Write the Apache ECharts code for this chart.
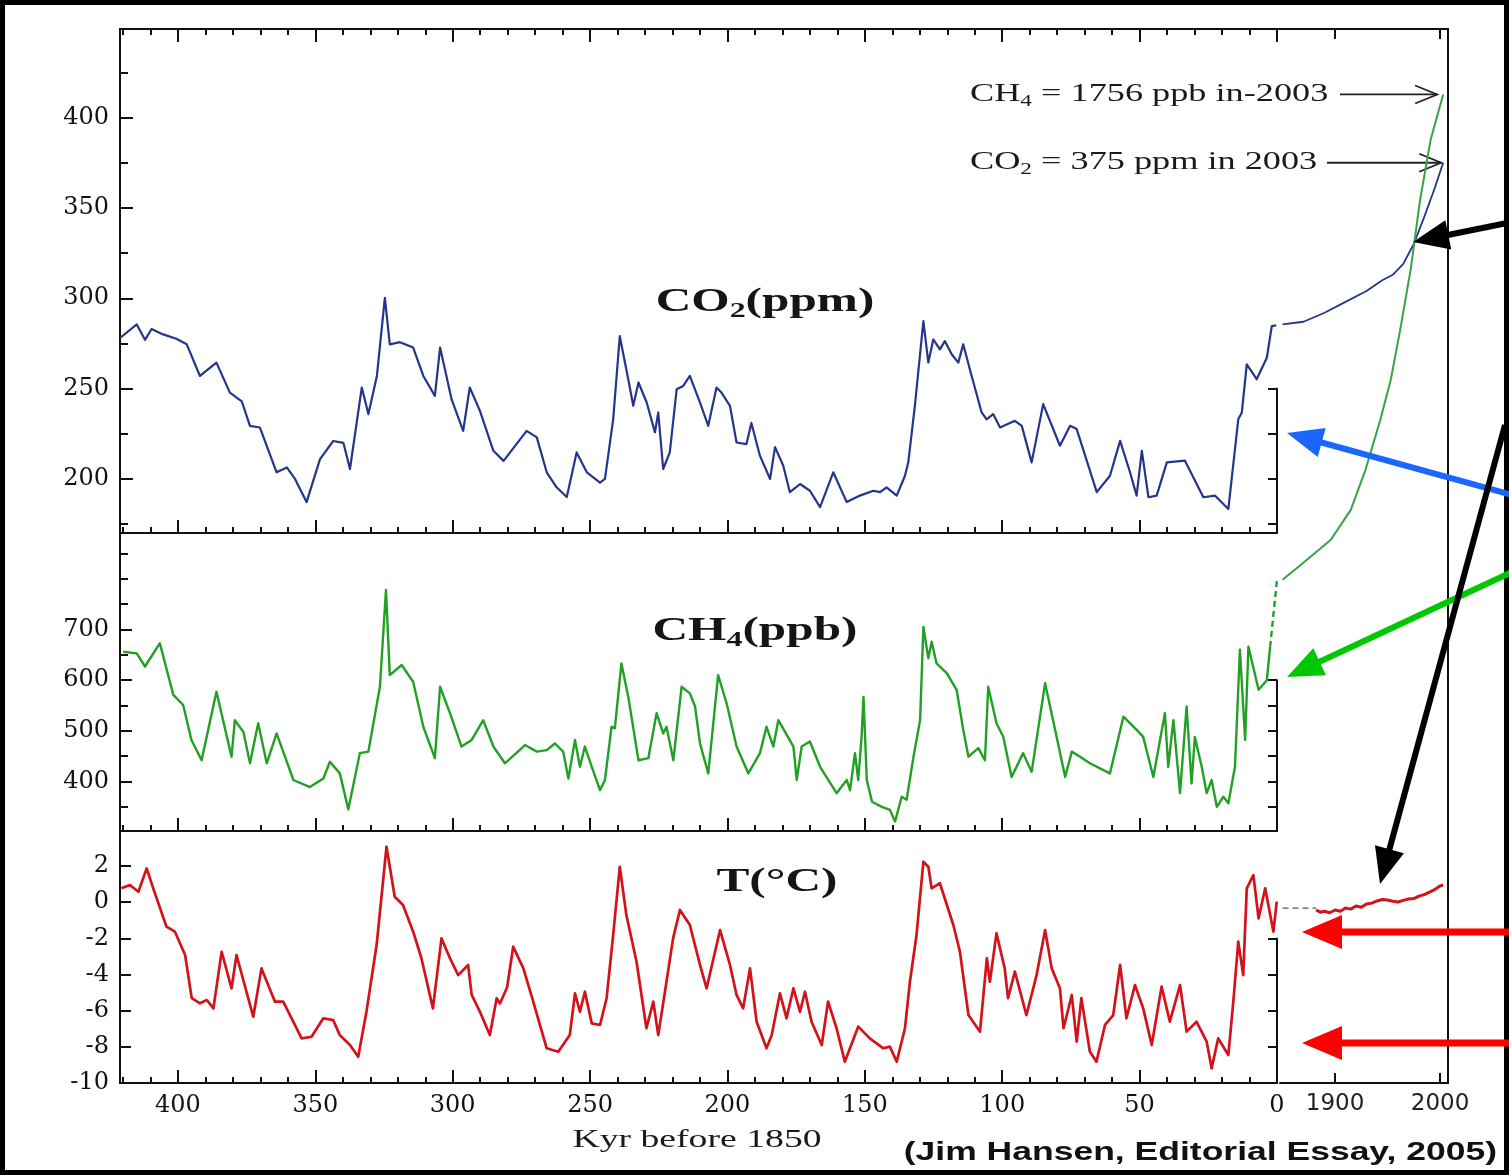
<!DOCTYPE html>
<html>
<head>
<meta charset="utf-8">
<title>Ice-core CO2, CH4 and temperature over 420 kyr</title>
<script src="https://cdn.jsdelivr.net/npm/echarts@6.0.0/dist/echarts.min.js"></script>
<style>
  html, body { margin: 0; padding: 0; background: #ffffff; }
  #chart { width: 1509px; height: 1175px; }
</style>
</head>
<body>
<div id="chart"></div>
<script>
// ---------------- Ice-core record (kyr before 1850) ----------------
const co2Kyr = [421.1,415.0,412.0,409.6,405.4,400.6,396.8,392.0,386.0,381.1,
  376.8,373.8,370.2,364.1,360.4,357.4,353.2,348.3,343.5,339.8,
  337.4,333.1,330.7,327.6,324.7,322.9,319.2,314.4,310.7,306.5,
  304.6,300.4,296.2,293.8,290.1,285.2,281.5,273.1,269.4,265.8,
  262.2,258.5,254.9,251.2,246.4,244.6,241.6,239.2,236.1,234.3,
  232.4,229.4,226.4,225.2,223.4,221.0,218.5,216.1,213.7,210.0,
  207.0,204.0,202.2,199.1,196.7,193.1,191.3,188.2,184.5,182.7,
  179.7,177.3,173.6,170.0,166.3,161.5,156.6,151.8,146.9,144.5,
  142.1,138.4,135.4,134.2,131.8,128.7,126.9,125.1,122.7,120.9,
  118.4,116.0,114.2,111.8,107.5,105.7,103.3,100.8,95.4,92.9,
  89.3,85.1,79.0,75.3,72.9,65.6,60.8,57.1,53.5,51.1,
  49.2,46.8,43.8,40.1,33.5,26.8,22.6,17.7,14.1,12.8,
  11.0,7.4,3.7,1.9,0.3];
const co2Ppm = [278,285.5,277,283,280,277.6,274.5,257,264.4,247.8,
  243,229.4,228.5,203.7,206.4,200,187.2,211,221,220,
  205.5,250.6,235.9,257,300.2,274.5,275.7,272.7,257,246,
  272.7,244,226.6,250.6,237.7,215.6,210,226.6,223,203.7,
  195.4,190,214.7,203.7,198,200,233,279,255,240.5,
  253.4,242.3,225.8,236.8,205.5,214.7,249.6,251.5,257,242.3,
  229.4,250.6,247.8,240.5,220.2,219.3,231,212.9,200,217.6,
  207.3,192.7,197.2,193.5,184.4,203.7,187.2,190.8,193.5,192.7,
  195.4,190.8,201.8,209.2,240.5,287.3,264.4,277.2,271.7,276.3,
  269,264.4,274.5,260.7,236.8,233,235.9,228.5,232.2,229.4,
  209.2,241.4,218.4,229.4,227.6,192.7,201.8,221.1,203.7,190.8,
  215.6,189.9,190.8,209.2,210.1,189.9,190.8,183.4,233,236.8,
  263.4,255.2,267.1,284.6,285];

const ch4Kyr = [419.9,415.0,412.0,406.6,401.7,398.1,395.1,391.4,386.0,380.5,
  379.3,376.2,373.8,370.8,367.7,364.1,358.0,352.0,347.1,344.7,
  341.1,338.0,333.8,330.7,326.5,324.3,322.9,318.6,314.4,310.7,
  306.5,304.6,301.0,296.8,293.1,288.9,285.2,281.0,273.7,269.4,
  265.8,262.8,259.8,257.9,255.5,253.7,251.9,249.4,246.4,244.6,
  242.2,241.0,238.6,236.1,232.4,228.8,225.8,223.4,222.2,219.7,
  216.7,213.7,211.8,210.0,207.0,203.4,200.3,196.7,192.4,188.2,
  185.8,183.3,181.5,176.0,174.8,173.0,170.0,166.3,160.3,156.6,
  155.4,153.6,152.4,151.2,150.5,149.3,147.4,143.8,140.9,139.0,
  136.6,134.8,132.3,129.9,128.7,126.9,125.7,123.9,120.2,116.6,
  114.2,112.3,108.7,106.3,105.1,102.1,99.6,96.6,92.4,89.3,
  84.4,80.2,77.1,74.7,71.7,68.1,60.8,55.9,51.1,48.7,
  45.0,40.8,39.6,37.7,35.3,32.9,31.1,29.9,27.4,25.6,
  23.8,21.9,19.5,17.7,15.3,13.5,11.6,10.4,6.7,3.7,
  2.5];
const ch4Ppb = [656,653,627,673,571,551,482,442,577,449,
  521,498,436,515,436,495,403,389,406,439,
  416,345,456,459,587,778,610,630,597,508,
  446,587,535,469,482,521,469,436,472,459,
  462,475,459,406,482,429,469,429,383,403,
  508,505,633,567,442,446,535,495,508,442,
  587,574,548,475,416,610,554,469,416,456,
  508,469,521,469,403,469,479,429,377,403,
  383,456,403,488,567,403,360,350,344,321,
  370,364,449,521,705,643,676,633,614,581,
  502,449,466,442,587,515,488,409,456,419,
  594,488,409,459,449,436,416,528,502,488,
  409,535,429,521,377,548,396,488,429,377,
  403,350,370,357,429,660,482,666,581,600,
  666];
// dashed join between the last ice-core CH4 value and 1850
const ch4LinkKyr = [2.5, 0];
const ch4LinkPpb = [666, 798];

const tKyr = [420.6,417.5,414.4,411.4,409.0,404.2,401.1,397.4,395.0,392.0,
  389.5,387.1,384.1,380.5,378.7,372.6,369.6,364.7,361.7,355.0,
  351.4,347.1,343.5,341.1,337.4,334.4,331.4,327.7,324.1,321.1,
  318.1,314.4,311.4,307.2,304.1,301.0,298.0,294.4,293.1,290.1,
  286.5,284.0,282.8,280.2,278.0,274.3,270.7,265.8,261.6,257.4,
  255.5,253.7,251.9,249.4,246.4,244.0,241.6,239.2,236.8,233.1,
  229.5,227.0,225.2,222.2,219.8,217.3,213.7,210.0,207.6,202.7,
  199.1,196.7,194.3,191.8,189.4,185.8,183.9,180.9,178.5,176.0,
  173.6,171.8,169.4,165.7,163.4,160.3,157.3,152.4,148.2,143.3,
  140.9,138.4,135.4,133.6,131.2,128.7,126.9,125.7,122.7,117.8,
  115.4,112.3,108.1,105.6,104.5,102.1,99.1,97.9,95.4,91.2,
  87.5,84.4,82.0,79.0,77.7,74.7,72.9,71.2,68.1,65.7,
  62.6,59.6,57.1,54.8,51.7,48.7,45.6,42.0,39.0,35.3,
  32.9,29.3,25.6,23.8,21.4,17.7,15.9,14.1,12.3,11.0,
  8.6,6.7,4.3,1.3,0.1];
const tDegC = [0.77,0.95,0.58,1.87,0.77,-1.35,-1.63,-2.92,-5.31,-5.59,
  -5.41,-5.87,-2.74,-4.76,-2.92,-6.33,-3.66,-5.5,-5.5,-7.53,
  -7.44,-6.42,-6.52,-7.35,-7.9,-8.55,-6.06,-2.37,3.07,0.3,
  -0.15,-1.63,-3.1,-5.87,-2.0,-3.1,-4.03,-3.47,-5.13,-6.06,
  -7.35,-5.31,-5.6,-4.7,-2.46,-3.66,-5.5,-8.08,-8.27,-7.35,
  -5.04,-6.06,-4.95,-6.7,-6.79,-5.31,-1.81,1.96,-0.71,-3.29,
  -6.97,-5.5,-7.35,-4.4,-2.0,-0.43,-1.26,-3.47,-4.76,-1.54,
  -3.47,-5.13,-5.87,-3.66,-6.61,-8.08,-7.35,-5.04,-6.42,-4.76,
  -6.06,-4.95,-6.61,-7.9,-5.5,-6.97,-8.82,-6.88,-7.53,-8.08,
  -7.99,-8.82,-6.97,-4.4,-1.81,2.24,1.96,0.77,1.05,-1.26,
  -2.74,-6.24,-7.16,-3.1,-4.4,-1.72,-3.66,-5.31,-3.84,-6.24,
  -4.03,-1.54,-3.66,-4.76,-6.97,-5.13,-7.71,-5.31,-8.27,-8.82,
  -6.79,-6.24,-3.47,-6.42,-4.58,-5.87,-7.9,-4.67,-6.61,-4.58,
  -7.16,-6.61,-7.71,-9.19,-7.53,-8.45,-5.5,-2.18,-4.03,0.77,
  1.5,-0.89,0.77,-1.63,0.03];

// ---------------- Modern record (calendar years) ----------------
const co2Years  = [1850,1870,1890,1910,1930,1945,1955,1965,1975,1985,1995,2003];
const co2Modern = [285.5,287,292,298,304,310,313,319,330,345,361,375];

const ch4Years  = [1850,1867,1896,1915,1929,1943,1953,1962,1972,1981,1991,2003];
const ch4Modern = [798,827,877,936,1015,1113,1192,1291,1410,1548,1666,1756];

const tLinkYears = [1850,1882];
const tLink      = [-0.33,-0.33];
const tYears  = [1882,1886,1890,1895,1900,1905,1910,1915,1920,1925,1930,1935,1940,1945,1950,1955,1960,1965,1970,1975,1980,1985,1990,1995,2000,2003];
const tModern = [-0.43,-0.55,-0.5,-0.58,-0.43,-0.5,-0.32,-0.38,-0.21,-0.28,-0.1,-0.05,0.07,0.15,0.12,0.05,0.01,0.1,0.18,0.2,0.34,0.42,0.56,0.7,0.9,0.95];

// ---------------- Axis ranges and tick positions ----------------
const kyrRange = [0, 421.1];
const yearRange = [1847.6, 2007.6];
const co2Range = [170.1, 449];
const ch4Range = [302.3, 890.5];
const ch4ModernRange = [302.3, 1885.2];
const tRange = [-10, 3.94];

const every = (a, b, s) => { const r = []; for (let v = a; v <= b + 1e-9; v += s) r.push(+v.toFixed(6)); return r; };
const kyrMinorTicks = every(0, 420, 10);
const kyrMajorTicks = every(0, 400, 50);
const kyrLabels = every(0, 400, 50);
const yearTicks = [1900, 2000];
const co2Labels = every(200, 400, 50);
const co2MinorTicks = every(175, 425, 50);
const ch4Labels = every(400, 700, 100);
const ch4MinorTicks = [350, 450, 550, 650, 750, 800, 850];
const tLabels = every(-10, 2, 2);
const co2StubTicks = [175, 200, 225, 250];
const ch4StubTicks = every(350, 600, 50);
const tStubTicks = [-8, -6, -4, -2];

// ---------------- Layout ----------------
const P = { left: 120, right: 1277, top: 29, co2Bottom: 533, ch4Bottom: 831, bottom: 1083, mLeft: 1280, mRight: 1448 };
const pixOf = (top, bottom, range, v) => bottom - (v - range[0]) / (range[1] - range[0]) * (bottom - top);
const co2StubTop = pixOf(P.top, P.co2Bottom, co2Range, 250);
const ch4StubTop = pixOf(P.co2Bottom, P.ch4Bottom, ch4Range, 600);
const tStubTop = pixOf(P.ch4Bottom, P.bottom, tRange, -2);

const leftW = P.right - P.left, modW = P.mRight - P.mLeft;
const grids = [
  { left: P.left, top: P.top, width: leftW, height: P.co2Bottom - P.top },            // 0 CO2
  { left: P.left, top: P.co2Bottom, width: leftW, height: P.ch4Bottom - P.co2Bottom },// 1 CH4
  { left: P.left, top: P.ch4Bottom, width: leftW, height: P.bottom - P.ch4Bottom },   // 2 T
  { left: P.mLeft, top: P.top, width: modW, height: P.co2Bottom - P.top },            // 3 modern CO2
  { left: P.mLeft, top: P.top, width: modW, height: P.ch4Bottom - P.top },            // 4 modern CH4
  { left: P.mLeft, top: P.ch4Bottom, width: modW, height: P.bottom - P.ch4Bottom },   // 5 modern T
  { left: P.left, top: co2StubTop, width: leftW, height: P.co2Bottom - co2StubTop },  // 6 CO2 right stub
  { left: P.left, top: ch4StubTop, width: leftW, height: P.ch4Bottom - ch4StubTop },  // 7 CH4 right stub
  { left: P.left, top: tStubTop, width: leftW, height: P.bottom - tStubTop },         // 8 T right stub
  { left: P.left, top: P.top, width: P.mRight - P.left, height: P.bottom - P.top }    // 9 outer frame
].map(g => Object.assign({ containLabel: false, outerBoundsMode: 'none' }, g));

const INK = '#111111';
const serifLabel = { fontFamily: 'DejaVu Serif', fontSize: 24, color: '#111111' };

function valueAxis(gridIndex, position, range, ticks, len, labels, extra) {
  return Object.assign({
    type: 'value', gridIndex, position, min: range[0], max: range[1],
    axisLine: { show: true, onZero: false, lineStyle: { color: INK, width: 2 } },
    axisTick: ticks ? { show: true, inside: true, length: len, customValues: ticks, lineStyle: { color: INK, width: 2 } } : { show: false },
    axisLabel: labels ? Object.assign({ show: true, customValues: labels, margin: 11, formatter: v => String(v) }, serifLabel) : { show: false },
    splitLine: { show: false }
  }, extra || {});
}
const hiddenAxis = (gridIndex, range) => ({ type: 'value', gridIndex, min: range[0], max: range[1], show: false, axisLine: { onZero: false } });
const kyrAxis = (g, pos, ticks, len, labels) => valueAxis(g, pos, kyrRange, ticks, len, labels, { inverse: true });

const xAxis = [
  kyrAxis(0, 'bottom', kyrMinorTicks, 6),                       // 0
  kyrAxis(0, 'bottom', kyrMajorTicks, 13),                      // 1
  kyrAxis(0, 'top', kyrMinorTicks, 6),                          // 2
  kyrAxis(0, 'top', kyrMajorTicks, 13),                         // 3
  kyrAxis(1, 'bottom', kyrMinorTicks, 6),                       // 4
  kyrAxis(1, 'bottom', kyrMajorTicks, 13),                      // 5
  kyrAxis(2, 'bottom', kyrMinorTicks, 6),                       // 6
  kyrAxis(2, 'bottom', kyrMajorTicks, 13, kyrLabels),           // 7
  valueAxis(3, 'top', yearRange, yearTicks, 10),                // 8
  hiddenAxis(4, yearRange),                                     // 9
  valueAxis(5, 'bottom', yearRange, yearTicks, 10, yearTicks,   // 10
    { axisLabel: { show: true, customValues: yearTicks, margin: 10, formatter: v => String(v),
      fontFamily: 'DejaVu Sans', fontSize: 23, color: '#222222' } }),
  hiddenAxis(6, kyrRange),                                      // 11
  hiddenAxis(7, kyrRange),                                      // 12
  hiddenAxis(8, kyrRange),                                      // 13
  valueAxis(9, 'top', [0, 1], null, 0)                          // 14
];

const yAxis = [
  valueAxis(0, 'left', co2Range, co2Labels, 13, co2Labels),           // 0
  valueAxis(0, 'left', co2Range, co2MinorTicks, 8),                   // 1
  valueAxis(1, 'left', ch4Range, ch4Labels, 12, ch4Labels),           // 2
  valueAxis(1, 'left', ch4Range, ch4MinorTicks, 8),                   // 3
  valueAxis(2, 'left', tRange, tLabels, 11, tLabels),                 // 4
  hiddenAxis(3, co2Range),                                            // 5
  hiddenAxis(4, ch4ModernRange),                                      // 6
  hiddenAxis(5, tRange),                                              // 7
  valueAxis(6, 'right', [co2Range[0], 250], co2StubTicks, 9),         // 8
  valueAxis(7, 'right', [ch4Range[0], 600], ch4StubTicks, 9),         // 9
  valueAxis(8, 'right', [tRange[0], -2], tStubTicks, 9),              // 10
  valueAxis(9, 'right', [0, 1], null, 0)                              // 11
];

const pairs = (xs, ys) => xs.map((x, i) => [x, ys[i]]);
const CO2_COLOR = '#24358a', CH4_COLOR = '#21a023', T_COLOR = '#d3121a';
const lineSeries = (name, xi, yi, data, color, width, dashed) => ({
  name, type: 'line', xAxisIndex: xi, yAxisIndex: yi, data, symbol: 'none',
  lineStyle: { color, width, type: dashed ? [6, 4] : 'solid', join: 'round' }, z: 3
});

const series = [
  lineSeries('CO2 ice core', 0, 0, pairs(co2Kyr, co2Ppm), CO2_COLOR, 2.2),
  lineSeries('CH4 ice core', 4, 2, pairs(ch4Kyr, ch4Ppb), CH4_COLOR, 2.4),
  lineSeries('CH4 join', 4, 2, pairs(ch4LinkKyr, ch4LinkPpb), CH4_COLOR, 2.4, true),
  lineSeries('T ice core', 6, 4, pairs(tKyr, tDegC), T_COLOR, 2.7),
  lineSeries('CO2 modern', 8, 5, pairs(co2Years, co2Modern), CO2_COLOR, 1.8),
  lineSeries('CH4 modern', 9, 6, pairs(ch4Years, ch4Modern), '#35a445', 2),
  lineSeries('T join', 10, 7, pairs(tLinkYears, tLink), '#555555', 1.3, true),
  lineSeries('T modern', 10, 7, pairs(tYears, tModern), T_COLOR, 3)
];

const chart = echarts.init(document.getElementById('chart'), null, { renderer: 'canvas' });
chart.setOption({
  animation: false,
  backgroundColor: '#ffffff',
  grid: grids, xAxis, yAxis, series
});

// ---------------- Overlay text and arrows ----------------
const STRETCH = 1.45;
function stretchedText(x, y, text, align, rich, base) {
  return {
    type: 'text', x, y, scaleX: STRETCH, originX: 0, originY: 0, z: 20,
    style: Object.assign({ text, rich, align, verticalAlign: 'middle', fill: '#151515' }, base || {})
  };
}
function solidArrow(from, to, color, width, headLen, headWidth) {
  const dx = to[0] - from[0], dy = to[1] - from[1], d = Math.hypot(dx, dy);
  const ux = dx / d, uy = dy / d, px = -uy, py = ux;
  const bx = to[0] - ux * headLen, by = to[1] - uy * headLen;
  return { type: 'group', z: 30, children: [
    { type: 'line', z: 30, shape: { x1: from[0], y1: from[1], x2: bx + ux * 3, y2: by + uy * 3 }, style: { stroke: color, lineWidth: width } },
    { type: 'polygon', z: 30, shape: { points: [to, [bx + px * headWidth / 2, by + py * headWidth / 2], [bx - px * headWidth / 2, by - py * headWidth / 2]] }, style: { fill: color } }
  ] };
}
function openArrow(from, to, color, width, headLen, headWidth) {
  const dx = to[0] - from[0], dy = to[1] - from[1], d = Math.hypot(dx, dy);
  const ux = dx / d, uy = dy / d, px = -uy, py = ux;
  const bx = to[0] - ux * headLen, by = to[1] - uy * headLen;
  return { type: 'group', z: 25, children: [
    { type: 'line', shape: { x1: from[0], y1: from[1], x2: to[0], y2: to[1] }, style: { stroke: color, lineWidth: width } },
    { type: 'polyline', shape: { points: [[bx + px * headWidth / 2, by + py * headWidth / 2], to, [bx - px * headWidth / 2, by - py * headWidth / 2]] }, style: { stroke: color, lineWidth: width, fill: null } }
  ] };
}

const titleRich = {
  m: { fontFamily: 'Liberation Serif', fontWeight: 'bold', fontSize: 34, lineHeight: 40, fill: '#151515' },
  s: { fontFamily: 'Liberation Serif', fontWeight: 'bold', fontSize: 22, lineHeight: 22, verticalAlign: 'bottom', fill: '#151515' }
};
const noteRich = {
  m: { fontFamily: 'Liberation Serif', fontSize: 25, lineHeight: 30, fill: '#1a1a1a' },
  s: { fontFamily: 'Liberation Serif', fontSize: 16, lineHeight: 16, verticalAlign: 'bottom', fill: '#1a1a1a' }
};

const lastCh4 = ch4Modern[ch4Modern.length - 1], lastCh4Year = ch4Years[ch4Years.length - 1];
const lastCo2 = co2Modern[co2Modern.length - 1], lastCo2Year = co2Years[co2Years.length - 1];
const ch4Tip = chart.convertToPixel({ xAxisIndex: 9, yAxisIndex: 6 }, [lastCh4Year, lastCh4]);
const co2Tip = chart.convertToPixel({ xAxisIndex: 8, yAxisIndex: 5 }, [lastCo2Year, lastCo2]);

const graphic = [
  // image border
  { type: 'rect', z: 1, shape: { x: 2.5, y: 2.5, width: 1504, height: 1170 }, style: { fill: null, stroke: '#000', lineWidth: 5 } },
  // panel titles
  stretchedText(765, 302, '{m|CO}{s|2}{m|(ppm)}', 'center', titleRich),
  stretchedText(755, 631, '{m|CH}{s|4}{m|(ppb)}', 'center', titleRich),
  stretchedText(777, 882, '{m|T(°C)}', 'center', titleRich),
  // annotations of the 2003 values
  stretchedText(970, ch4Tip[1], '{m|CH}{s|4}{m| = ' + lastCh4 + ' ppb in-' + lastCh4Year + '}', 'left', noteRich),
  stretchedText(970, co2Tip[1], '{m|CO}{s|2}{m| = ' + lastCo2 + ' ppm in ' + lastCo2Year + '}', 'left', noteRich),
  openArrow([1340, ch4Tip[1]], [ch4Tip[0] - 6, ch4Tip[1]], '#222', 1.8, 22, 18),
  openArrow([1327, co2Tip[1]], [co2Tip[0] - 2, co2Tip[1]], '#222', 1.8, 22, 18),
  // axis title and source line
  stretchedText(697, 1140, 'Kyr before 1850', 'center', null, { fontFamily: 'Liberation Serif', fontSize: 26, fill: '#1a1a1a' }),
  { type: 'text', x: 1497, y: 1153, scaleX: 1.42, originX: 0, originY: 0, z: 20,
    style: { text: '(Jim Hansen, Editorial Essay, 2005)', align: 'right', verticalAlign: 'middle',
      fontFamily: 'Liberation Sans', fontWeight: 'bold', fontSize: 25, fill: '#111' } },
  // pointer arrows
  solidArrow([1512, 222], [1413, 242], '#000000', 6, 36, 30),
  solidArrow([1512, 495], [1287, 433], '#1a66ff', 6, 36, 30),
  solidArrow([1512, 572], [1287, 677], '#00c800', 6, 36, 30),
  solidArrow([1505, 425], [1380, 884], '#000000', 6, 36, 30),
  solidArrow([1512, 932], [1302, 932], '#ff0000', 7, 40, 34),
  solidArrow([1512, 1043], [1302, 1043], '#ff0000', 7, 40, 34)
];
chart.setOption({ graphic });
</script>
</body>
</html>
